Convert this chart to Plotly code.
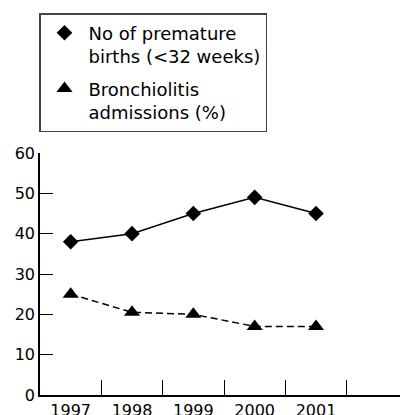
import plotly.graph_objects as go

years = [1997, 1998, 1999, 2000, 2001]
premature = [38, 40, 45, 49, 45]
bronchiolitis = [25, 20.5, 20, 17, 17]
y_ticks = [0, 10, 20, 30, 40, 50, 60]
boundaries = [1997.5, 1998.5, 1999.5, 2000.5, 2001.5]
name_prem = "No of premature<br>births (<32 weeks)"
name_bron = "Bronchiolitis<br>admissions (%)"

FONT = "DejaVu Sans"
W, H = 400, 407  # page body has an 8px margin

fig = go.Figure()
fig.add_trace(go.Scatter(
    x=years, y=premature, mode="lines+markers", showlegend=False,
    line=dict(color="black", width=1.5),
    marker=dict(symbol="diamond", size=12, color="black"),
))
fig.add_trace(go.Scatter(
    x=years, y=bronchiolitis, mode="lines+markers", showlegend=False,
    line=dict(color="black", width=1.5, dash="7px,4px"),
    marker=dict(symbol="triangle-up", size=14, color="black"),
))
# legend-only entries (marker only)
fig.add_trace(go.Scatter(
    x=[None], y=[None], mode="markers", name=name_prem, legendgroup="a",
    marker=dict(symbol="diamond", size=12, color="black"),
))
fig.add_trace(go.Scatter(
    x=[None], y=[None], mode="markers", name=name_bron, legendgroup="b",
    marker=dict(symbol="triangle-up", size=14, color="black"),
))

fig.update_layout(
    width=W, height=H,
    margin=dict(l=32, r=0, t=145, b=20, autoexpand=False),
    paper_bgcolor="white", plot_bgcolor="white",
    font=dict(family=FONT, size=16, color="black"),
    legend=dict(
        x=31 / W, y=1 - 5 / H, xref="container", yref="container",
        xanchor="left", yanchor="top", valign="top",
        bordercolor="#444", borderwidth=1.5, bgcolor="white",
        font=dict(family=FONT, size=18, color="black"),
        itemwidth=38, tracegroupgap=6,
    ),
    xaxis=dict(
        range=[1996.5, 2002.5], tickvals=years, ticktext=[str(y) for y in years],
        ticks="", showgrid=False, zeroline=False, tickangle=0,
        ticklabelstandoff=0,
        showline=True, linecolor="black", linewidth=1.5,
        minor=dict(tickvals=boundaries, ticks="inside", ticklen=15,
                   tickcolor="black", tickwidth=1.2, showgrid=False),
    ),
    yaxis=dict(
        range=[0, 60], tickvals=y_ticks, ticks="inside", ticklen=13,
        tickcolor="black", tickwidth=1.2, showgrid=False, zeroline=False,
        showline=True, linecolor="black", linewidth=1.5,
    ),
)

fig.write_html("out.html")
